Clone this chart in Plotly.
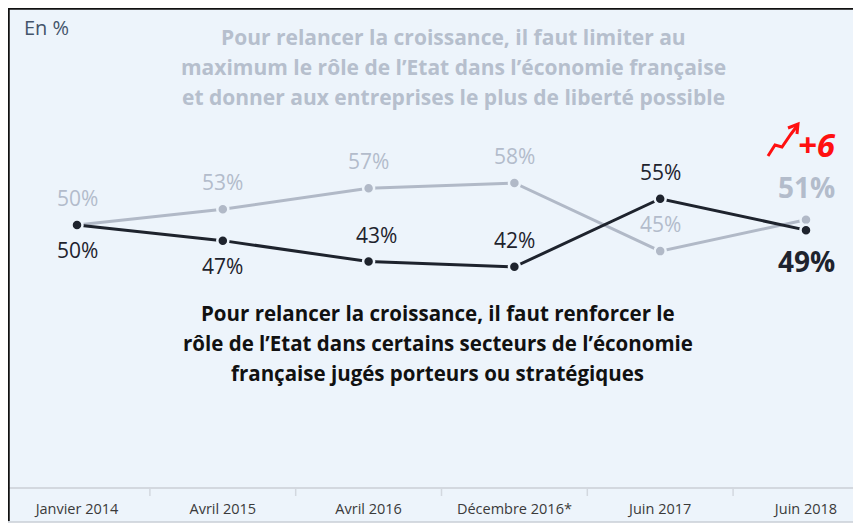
import plotly.graph_objects as go

categories = ["Janvier 2014", "Avril 2015", "Avril 2016", "Décembre 2016*", "Juin 2017", "Juin 2018"]
limiter = [50, 53, 57, 58, 45, 51]      # gray series
renforcer = [50, 47, 43, 42, 55, 49]    # dark series
dark_label_above = [False, False, True, True, True, False]

header_lines = ["Pour relancer la croissance, il faut limiter au",
                "maximum le rôle de l’Etat dans l’économie française",
                "et donner aux entreprises le plus de liberté possible"]
body_lines = ["Pour relancer la croissance, il faut renforcer le",
              "rôle de l’Etat dans certains secteurs de l’économie",
              "française jugés porteurs ou stratégiques"]

GRAY = "#B1B9C7"
GRAY_TXT = "#B3BCCB"
DARK = "#1E232D"
BG = "#EDF4FB"
FONT = "Open Sans"

OFF = 8                      # page body margin
W, H = 861 - OFF, 527 - OFF
L, R, T, B = 1, 5, 2, 40
pw, ph = W - L - R, H - T - B

def px(sx):
    return (sx - OFF - L) / pw

def py(sy):
    return (H - B - (sy - OFF)) / ph

xs = list(range(len(categories)))

fig = go.Figure()
fig.add_trace(go.Scatter(
    x=xs, y=limiter, mode="lines+markers",
    line=dict(color=GRAY, width=3),
    marker=dict(color=GRAY, size=11, line=dict(color=BG, width=2.5)),
    hoverinfo="skip", showlegend=False))
fig.add_trace(go.Scatter(
    x=xs, y=renforcer, mode="lines+markers",
    line=dict(color=DARK, width=3),
    marker=dict(color=DARK, size=11, line=dict(color=BG, width=2.5)),
    hoverinfo="skip", showlegend=False))

ann = []
n = len(categories)
for i in range(n):
    last = i == n - 1
    g, d = limiter[i], renforcer[i]
    ann.append(dict(x=i, y=g, xref="x", yref="y",
                    text=f"<b>{g}%</b>" if last else f"{g}%", showarrow=False,
                    yshift=33 if last else 27,
                    font=dict(family=FONT, size=28 if last else 21, color=GRAY_TXT),
                    xanchor="center", yanchor="middle"))
    above = dark_label_above[i]
    ann.append(dict(x=i, y=d, xref="x", yref="y",
                    text=f"<b>{d}%</b>" if last else f"{d}%", showarrow=False,
                    yshift=27 if above else (-31 if last else -25),
                    xshift=8 if i == 2 else 0,
                    font=dict(family=FONT, size=28 if last else 21, color=DARK),
                    xanchor="center", yanchor="middle"))

ann.append(dict(x=px(22), y=py(28), xref="paper", yref="paper", text="En %", showarrow=False,
                xanchor="left", yanchor="middle", font=dict(family=FONT, size=20, color="#44546A")))
for k, line in enumerate(header_lines):
    ann.append(dict(x=px(454), y=py(37 + 30 * k), xref="paper", yref="paper",
                    text=f"<b>{line}</b>", showarrow=False, xanchor="center", yanchor="middle",
                    font=dict(family=FONT, size=21, color="#B6BFCD")))
for k, line in enumerate(body_lines):
    ann.append(dict(x=px(438), y=py(313 + 30 * k), xref="paper", yref="paper",
                    text=f"<b>{line}</b>", showarrow=False, xanchor="center", yanchor="middle",
                    font=dict(family=FONT, size=20.5, color="#111111")))
ann.append(dict(x=px(817), y=py(144), xref="paper", yref="paper",
                text="<b><i>+6</i></b>", showarrow=False, xanchor="center", yanchor="middle",
                font=dict(family=FONT, size=33, color="#FF1010")))

def path(points):
    s = ""
    for k, (a, b) in enumerate(points):
        s += ("M" if k == 0 else "L") + f" {px(a):.5f},{py(b):.5f} "
    return s

shapes = [
    dict(type="rect", xref="paper", yref="paper", x0=px(8), x1=px(875), y0=py(522), y1=py(8),
         fillcolor=BG, line=dict(color="#C9CED6", width=1.5), layer="below"),
    dict(type="line", xref="paper", yref="paper", x0=px(8), x1=px(875), y0=py(8.5), y1=py(8.5),
         line=dict(color="#111111", width=2.5)),
    dict(type="line", xref="paper", yref="paper", x0=px(8.5), x1=px(8.5), y0=py(8), y1=py(521),
         line=dict(color="#111111", width=2.5)),
    dict(type="path", xref="paper", yref="paper",
         path=path([(768, 156), (775, 145), (782, 147), (791, 134), (797, 126)]),
         line=dict(color="#FF1010", width=3)),
    dict(type="path", xref="paper", yref="paper",
         path=path([(788, 128), (798, 124), (797, 134)]),
         line=dict(color="#FF1010", width=3)),
]

fig.update_layout(
    width=W, height=H,
    margin=dict(l=L, r=R, t=T, b=B),
    paper_bgcolor="white", plot_bgcolor="rgba(0,0,0,0)",
    annotations=ann, shapes=shapes, showlegend=False,
    xaxis=dict(type="linear", range=[(L + OFF - 77) / 145.8, (W - R + OFF - 77) / 145.8],
               tickvals=xs, ticktext=categories, showgrid=False, zeroline=False,
               showline=True, linecolor="#D3D8DF", linewidth=1.5,
               ticks="outside", ticklen=8, tickcolor="rgba(0,0,0,0)",
               tickfont=dict(family=FONT, size=14.5, color="#3A3A3A"),
               fixedrange=True),
    yaxis=dict(range=[0, 91], visible=False, fixedrange=True),
)

for i in range(n - 1):
    fig.add_shape(type="line", xref="x", yref="paper", x0=i + 0.5, x1=i + 0.5,
                  y0=py(487), y1=py(496), line=dict(color="#D3D8DF", width=1.5))

fig.write_html("out.html")
